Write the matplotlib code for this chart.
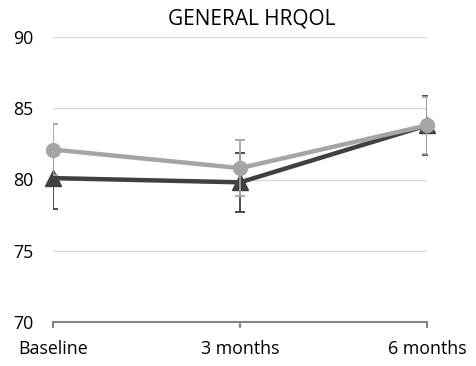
import matplotlib.pyplot as plt
import numpy as np

plt.rcParams['font.family'] = ['Open Sans', 'DejaVu Sans']

# data
categories = ["Baseline", "3 months", "6 months"]
dark_vals = [80.1, 79.8, 83.8]
dark_err = [2.2, 2.05, 2.05]
light_vals = [82.1, 80.8, 83.8]
light_err = [1.8, 1.95, 2.0]
y_ticks = [70, 75, 80, 85, 90]

DARK = "#404040"
LIGHT = "#a5a5a5"

fig = plt.figure(figsize=(4.76, 3.66), dpi=100)
ax = fig.add_axes([53 / 476, 1 - 322 / 366, 374 / 476, 285 / 366])

x = np.arange(len(categories))

# error bars (clipped at the plot edges like the original)
ax.errorbar(x, dark_vals, yerr=dark_err, fmt="none", ecolor=DARK,
            elinewidth=1.3, capsize=3.5, capthick=1.3, zorder=2)
ax.errorbar(x, light_vals, yerr=light_err, fmt="none", ecolor=LIGHT,
            elinewidth=1.3, capsize=3.5, capthick=1.3, zorder=4)

# lines
ax.plot(x, dark_vals, color=DARK, lw=3.2, marker="^", ms=11,
        clip_on=False, zorder=3)
ax.plot(x, light_vals, color=LIGHT, lw=3.2, marker="o", ms=10,
        clip_on=False, zorder=5)

ax.set_xlim(0, 2)
ax.set_ylim(70, 90)
ax.set_yticks(y_ticks)
ax.set_xticks(x)
ax.set_xticklabels(categories)

ax.grid(axis="y", color="#d9d9d9", lw=1)
ax.set_axisbelow(True)

for s in ["left", "right", "top"]:
    ax.spines[s].set_visible(False)
ax.spines["bottom"].set_color("#868686")
ax.spines["bottom"].set_linewidth(1.5)

ax.tick_params(axis="y", length=0, pad=14, labelsize=12.8, labelcolor="#000000")
ax.tick_params(axis="x", direction="out", length=4, width=1.5, color="#868686",
               pad=9, labelsize=12.8)

fig.text(252 / 476, 1 - 19 / 366, "GENERAL HRQOL", ha="center", va="center",
         fontsize=15)

fig.savefig("out.png", dpi=100)
